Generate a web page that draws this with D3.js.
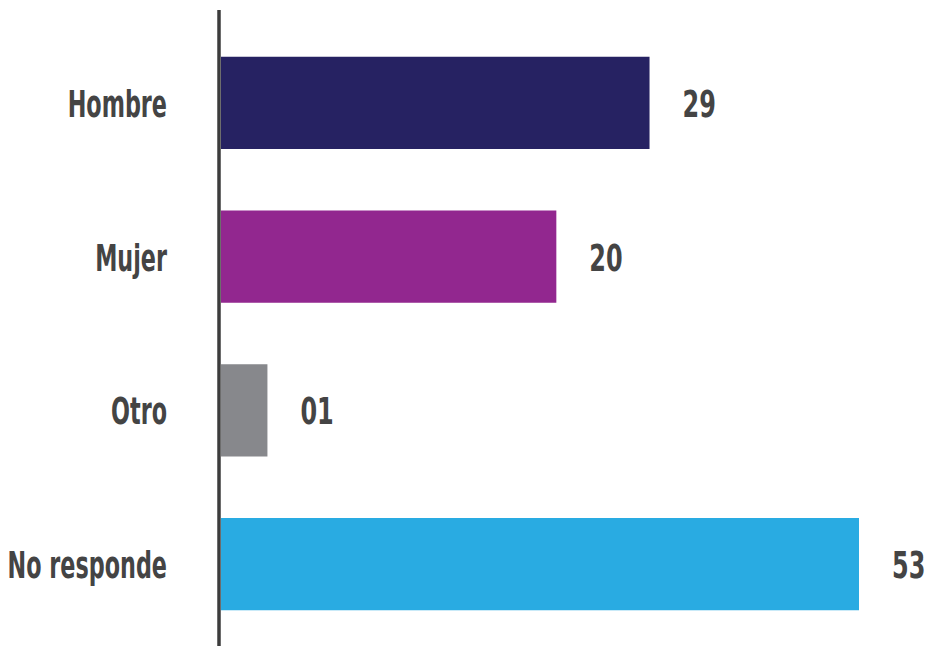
<!DOCTYPE html>
<html>
<head>
<meta charset="utf-8">
<script src="https://cdn.jsdelivr.net/npm/d3@7"></script>
<style>
  body { margin: 0; background: #fff; }
  text { font-family: "DejaVu Sans Condensed", "Liberation Sans Narrow", sans-serif; font-weight: bold; fill: #444444; }
</style>
</head>
<body>
<div id="chart"></div>
<script>
// data
var categories = ["Hombre", "Mujer", "Otro", "No responde"];
var values = [29, 20, 1, 53];
var valueLabels = ["29", "20", "01", "53"];
var barColors = ["#262262", "#92278f", "#87888c", "#29abe2"];

var WIDTH = 925;
var HEIGHT = 646;
var AXIS_X = 219;

var svg = d3.select("#chart").append("svg")
    .attr("width", WIDTH)
    .attr("height", HEIGHT);

// bar lengths in the original are not proportional, a pow scale follows them
var xScale = d3.scalePow()
    .exponent(0.66)
    .domain([0, 53])
    .range([AXIS_X + 2, 859]);

var yScale = d3.scaleBand()
    .domain(categories)
    .range([26, 641])
    .paddingInner(0.4)
    .paddingOuter(0.2);

var rows = categories.map(function(c, i) {
    return {cat: c, value: values[i], label: valueLabels[i], color: barColors[i]};
});

// bars
svg.selectAll(".bar")
    .data(rows)
    .enter()
    .append("rect")
    .attr("class", "bar")
    .attr("x", xScale(0))
    .attr("y", d => yScale(d.cat))
    .attr("width", d => xScale(d.value) - xScale(0))
    .attr("height", yScale.bandwidth())
    .attr("fill", d => d.color);

// category labels (condensed to look like the original narrow face)
svg.selectAll(".cat")
    .data(rows)
    .enter()
    .append("text")
    .attr("class", "cat")
    .attr("text-anchor", "end")
    .attr("font-size", 37)
    .attr("transform", d => "translate(167," + (yScale(d.cat) + yScale.bandwidth() / 2 + 14) + ") scale(0.67,1)")
    .text(d => d.cat);

// value labels
svg.selectAll(".val")
    .data(rows)
    .enter()
    .append("text")
    .attr("class", "val")
    .attr("font-size", 37)
    .attr("transform", d => "translate(" + (xScale(d.value) + 33) + "," + (yScale(d.cat) + yScale.bandwidth() / 2 + 14) + ") scale(0.72,1)")
    .text(d => d.label);

// axis line
svg.append("line")
    .attr("x1", AXIS_X)
    .attr("x2", AXIS_X)
    .attr("y1", 10)
    .attr("y2", HEIGHT)
    .attr("stroke", "#3c3c3c")
    .attr("stroke-width", 3.5);
</script>
</body>
</html>
